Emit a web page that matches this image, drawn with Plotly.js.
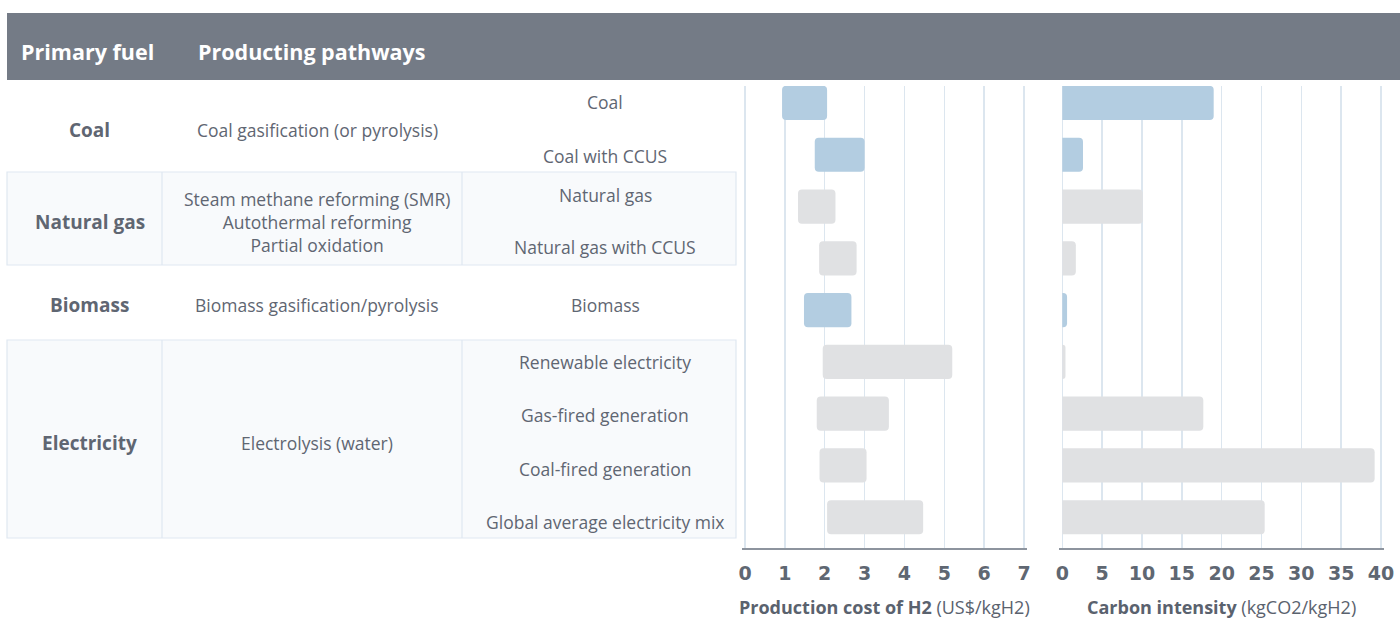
<!DOCTYPE html>
<html>
<head>
<meta charset="utf-8">
<script src="https://cdn.plot.ly/plotly-3.0.1.min.js"></script>
<style>
html,body{margin:0;padding:0;background:#ffffff;}
#chart{width:1400px;height:621px;}
</style>
</head>
<body>
<div id="chart"></div>
<script>
// ---------------- DATA ----------------
const headers = ["Primary fuel", "Producting pathways"];
const fuels = ["Coal", "Natural gas", "Biomass", "Electricity"];
const processes = [
  "Coal gasification (or pyrolysis)",
  "Steam methane reforming (SMR)<br>Autothermal reforming<br>Partial oxidation",
  "Biomass gasification/pyrolysis",
  "Electrolysis (water)"
];
const pathways = [
  "Coal", "Coal with CCUS", "Natural gas", "Natural gas with CCUS", "Biomass",
  "Renewable electricity", "Gas-fired generation", "Coal-fired generation",
  "Global average electricity mix"
];
const fuelOfPathway = [
  "Coal", "Coal", "Natural gas", "Natural gas", "Biomass",
  "Electricity", "Electricity", "Electricity", "Electricity"
];
// Production cost of H2 (US$/kgH2): low and high ends of each range
const costLow  = [0.93, 1.75, 1.33, 1.86, 1.48, 1.95, 1.80, 1.87, 2.06];
const costHigh = [2.06, 3.00, 2.27, 2.80, 2.67, 5.20, 3.61, 3.05, 4.47];
// Carbon intensity (kgCO2/kgH2)
const carbonIntensity = [19.0, 2.6, 10.1, 1.7, 0.6, 0.4, 17.7, 39.2, 25.4];
const costTicks = [0, 1, 2, 3, 4, 5, 6, 7];
const carbonTicks = [0, 5, 10, 15, 20, 25, 30, 35, 40];
const axisTitles = [
  "<b>Production cost of H2</b> (US$/kgH2)",
  "<b>Carbon intensity</b> (kgCO2/kgH2)"
];

// ---------------- LAYOUT / STYLE ----------------
const W = 1400, H = 621;
const px = x => x / W;
const py = y => 1 - y / H;

const blue = "#b3cde1", gray = "#e0e1e3";
const fuelColor = {"Coal": blue, "Biomass": blue, "Natural gas": gray, "Electricity": gray};
const barColors = fuelOfPathway.map(f => fuelColor[f]);

const textColor = "#5f6672";
const tableFont = "'Open Sans', Roboto, sans-serif";

// table geometry (pixels)
const fuelBands = [[80, 172], [172, 265], [265, 340], [340, 538]];
const fuelBoxed = [false, true, false, true];
const fuelLabelY = [130, 222, 305, 443];
const pathwayLabelY = [102, 156, 195, 247, 305, 362, 415, 469, 522];
const colCenters = [90, 317, 605];
const colDividers = [162, 462];

const shapes = [];
// header band
shapes.push({type: "rect", xref: "paper", yref: "paper",
  x0: px(7), x1: 1, y0: py(80), y1: py(13),
  fillcolor: "#747b86", line: {width: 0}, layer: "below"});
fuelBands.forEach((b, i) => {
  if (!fuelBoxed[i]) return;
  shapes.push({type: "rect", xref: "paper", yref: "paper",
    x0: px(7), x1: px(736), y0: py(b[1]), y1: py(b[0]),
    fillcolor: "#f8fafc", line: {color: "#dfe8f1", width: 1.2}, layer: "below"});
  colDividers.forEach(d => shapes.push({type: "line", xref: "paper", yref: "paper",
    x0: px(d), x1: px(d), y0: py(b[1]), y1: py(b[0]),
    line: {color: "#dfe8f1", width: 1.2}, layer: "below"}));
});

const annotations = [];
// header texts
[19, 196].forEach((x, i) => annotations.push({
  text: "<b>" + headers[i] + "</b>", xref: "paper", yref: "paper",
  x: px(x), y: py(51), xanchor: "left", yanchor: "middle", showarrow: false,
  font: {family: tableFont, size: 21.5, color: "#ffffff"}
}));
// fuel + process texts
fuels.forEach((f, i) => {
  annotations.push({text: "<b>" + f + "</b>", xref: "paper", yref: "paper",
    x: px(colCenters[0]), y: py(fuelLabelY[i]), xanchor: "center", yanchor: "middle",
    showarrow: false, font: {family: tableFont, size: 19, color: textColor}});
  annotations.push({text: processes[i], xref: "paper", yref: "paper",
    x: px(colCenters[1]), y: py(fuelLabelY[i]), xanchor: "center", yanchor: "middle",
    showarrow: false, align: "center",
    font: {family: tableFont, size: 17.5, color: textColor}});
});
// pathway texts
pathways.forEach((p, i) => annotations.push({text: p, xref: "paper", yref: "paper",
  x: px(colCenters[2]), y: py(pathwayLabelY[i]), xanchor: "center", yanchor: "middle",
  showarrow: false, font: {family: tableFont, size: 17.5, color: textColor}}));
// axis titles
[[745, 1024], [1062, 1381]].forEach((r, i) => annotations.push({
  text: axisTitles[i], xref: "paper", yref: "paper",
  x: px((r[0] + r[1]) / 2), y: py(607), xanchor: "center", yanchor: "middle",
  showarrow: false, font: {family: tableFont, size: 18, color: "#5a626e"}}));

const traces = [
  {type: "bar", orientation: "h", y: pathways,
   x: costHigh.map((h, i) => h - costLow[i]), base: costLow,
   xaxis: "x", yaxis: "y", width: 0.66,
   marker: {color: barColors, line: {width: 0}}, hoverinfo: "skip"},
  {type: "bar", orientation: "h", y: pathways, x: carbonIntensity,
   xaxis: "x2", yaxis: "y", width: 0.66,
   marker: {color: barColors, line: {width: 0}}, hoverinfo: "skip"}
];

const axisCommon = {
  showgrid: true, gridcolor: "#dce6ef", gridwidth: 1.5,
  zeroline: false, showline: true, linecolor: "#8d949e", linewidth: 1.5,
  ticks: "", ticklabelstandoff: 8, fixedrange: true,
  tickfont: {family: "'DejaVu Sans', sans-serif", size: 19, color: "#5f6772", weight: "bold"},
  anchor: "y"
};

const layout = {
  width: W, height: H,
  margin: {l: 0, r: 0, t: 0, b: 0, pad: 0},
  paper_bgcolor: "#ffffff", plot_bgcolor: "rgba(0,0,0,0)",
  showlegend: false,
  barcornerradius: 4,
  xaxis: Object.assign({}, axisCommon, {domain: [px(742.2), px(1026.8)], range: [-0.07, 7.07],
    tickvals: costTicks, ticktext: costTicks.map(String)}),
  xaxis2: Object.assign({}, axisCommon, {domain: [px(1059.3), px(1384)], range: [-0.375, 40.375],
    tickvals: carbonTicks, ticktext: carbonTicks.map(String)}),
  yaxis: {type: "category", categoryarray: pathways, categoryorder: "array",
    domain: [py(548), py(86)], range: [8.594, -0.328],
    visible: false, showgrid: false, zeroline: false, fixedrange: true, anchor: "x"},
  shapes: shapes,
  annotations: annotations
};

Plotly.newPlot("chart", traces, layout, {displayModeBar: false, staticPlot: true});
</script>
</body>
</html>
